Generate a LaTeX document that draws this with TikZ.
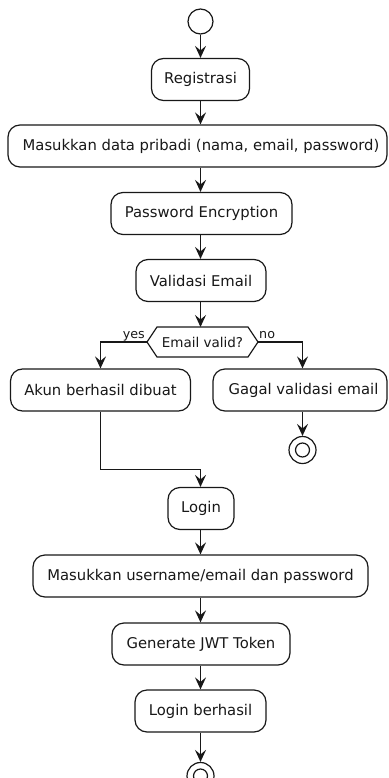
\documentclass[tikz,border=0pt]{standalone}
\usepackage{fontspec}
\setmainfont{DejaVu Sans}
\usetikzlibrary{arrows.meta,calc}
\definecolor{ink}{HTML}{181818}
\begin{document}
\begin{tikzpicture}[x=1pt,y=-1pt,
  every node/.style={text=ink},
  act/.style={draw=ink, line width=1.2pt, rounded corners=12pt, fill=white,
    minimum height=42pt, inner sep=0pt, font=\fontsize{14.8}{17}\selectfont},
  lbl/.style={inner sep=0pt, font=\fontsize{12.7}{15}\selectfont},
  flow/.style={draw=ink, line width=1.3pt, -{Stealth[length=12pt,width=11pt,inset=4.5pt]}},
  startdot/.style={circle, draw=ink, line width=1.2pt, fill=white, minimum size=25pt, inner sep=0pt},
  enddot/.style={circle, draw=ink, line width=1.2pt, fill=white, minimum size=27pt, inner sep=0pt,
    path picture={\draw[ink, line width=1.2pt] (path picture bounding box.center) circle[radius=7pt];}},
]
\useasboundingbox (0,0) rectangle (388,778);
\clip (0,0) rectangle (388,778);

% start and registration activities
\node[startdot] (start) at (200.5,21.5) {};
\node[act, minimum width=98pt]  (reg)  at (200.5,79.5)  {Registrasi};
\node[act, minimum width=379pt] (data) at (197.5,146) {\hspace*{7pt}Masukkan data pribadi (nama, email, password)};
\node[act, minimum width=181pt] (pwd)  at (201.5,213.5) {Password Encryption};
\node[act, minimum width=130pt] (val)  at (201,280.5) {Validasi Email};

% decision hexagon
\coordinate (decW) at (147,342);
\coordinate (decE) at (258,342);
\draw[ink, line width=1.2pt, fill=white] (decW) -- (157,327) -- (248,327) -- (decE) -- (248,357) -- (157,357) -- cycle;
\node[inner sep=0pt, font=\fontsize{13.5}{16}\selectfont] (dec) at (202.5,342) {Email valid?};

% branches
\node[act, minimum width=180pt] (akun)  at (100.5,390) {Akun berhasil dibuat};
\node[act, minimum width=174pt] (gagal) at (300,390) {\hspace*{7pt}Gagal validasi email};
\node[enddot] (endR) at (302.5,450) {};

\node[lbl, anchor=base east] (yes) at (145,338) {yes};
\node[lbl, anchor=base west] (no)  at (259,338) {no};

% login sequence
\node[act, minimum width=66pt]  (login) at (201,508.5) {Login};
\node[act, minimum width=335pt] (user)  at (200.5,576) {Masukkan username/email dan password};
\node[act, minimum width=178pt] (jwt)   at (201,644)  {Generate JWT Token};
\node[act, minimum width=131pt] (lb)    at (200.5,711) {Login berhasil};
\node[enddot] (endB) at (200.5,776) {};

% connectors, all on the main axis x = 200.5
\coordinate (axis) at (200.5,0);
\draw[flow] (start) -- (axis |- reg.north);
\draw[flow] (axis |- reg.south) -- (axis |- data.north);
\draw[flow] (axis |- data.south) -- (axis |- pwd.north);
\draw[flow] (axis |- pwd.south) -- (axis |- val.north);
\draw[flow] (axis |- val.south) -- (axis |- 0,327);
\draw[flow] (decW) -| (akun.north);
\draw[flow] (decE) -| (endR |- gagal.north);
\draw[flow] (endR |- gagal.south) -- (endR);
\coordinate (join) at (akun.south |- 0,469.5);
\draw[flow] (akun.south) -- (join) -| (axis |- login.north);
\draw[flow] (axis |- login.south) -- (axis |- user.north);
\draw[flow] (axis |- user.south) -- (axis |- jwt.north);
\draw[flow] (axis |- jwt.south) -- (axis |- lb.north);
\draw[flow] (axis |- lb.south) -- (endB);
\end{tikzpicture}
\end{document}
